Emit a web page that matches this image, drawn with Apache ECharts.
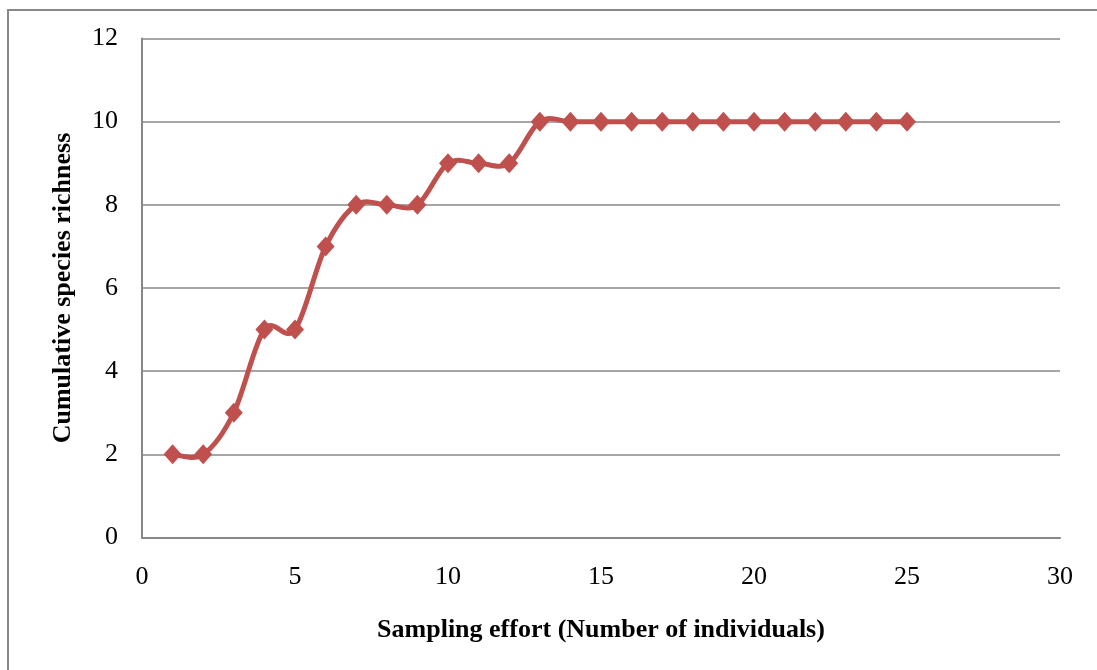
<!DOCTYPE html>
<html><head><meta charset="utf-8">
<script src="https://cdn.jsdelivr.net/npm/echarts@6/dist/echarts.min.js"></script>
<style>html,body{margin:0;padding:0;background:#fff}#c{width:1097px;height:670px}</style>
</head><body><div id="c"></div>
<script>
const xValues = [1,2,3,4,5,6,7,8,9,10,11,12,13,14,15,16,17,18,19,20,21,22,23,24,25];
const richness = [2,2,3,5,5,7,8,8,8,9,9,9,10,10,10,10,10,10,10,10,10,10,10,10,10];
const xTitle = 'Sampling effort (Number of individuals)';
const yTitle = 'Cumulative species richness';

const chart = echarts.init(document.getElementById('c'));
const font = '"Liberation Serif","Times New Roman",serif';
const lineColor = '#C0504D';

// Excel-like (Catmull-Rom) smoothed line through the data points, using the chart's scales
function renderSmooth(params, api) {
  const pts = xValues.map((x, i) => api.coord([x, richness[i]]));
  const n = pts.length;
  const children = [];
  for (let i = 0; i < n - 1; i++) {
    const p0 = pts[Math.max(i - 1, 0)], p1 = pts[i], p2 = pts[i + 1], p3 = pts[Math.min(i + 2, n - 1)];
    children.push({
      type: 'bezierCurve',
      shape: {
        x1: p1[0], y1: p1[1], x2: p2[0], y2: p2[1],
        cpx1: p1[0] + (p2[0] - p0[0]) / 6, cpy1: p1[1] + (p2[1] - p0[1]) / 6,
        cpx2: p2[0] - (p3[0] - p1[0]) / 6, cpy2: p2[1] - (p3[1] - p1[1]) / 6
      },
      style: { stroke: lineColor, lineWidth: 5, fill: null, lineCap: 'round' }
    });
  }
  return { type: 'group', children };
}

chart.setOption({
  animation:false,
  backgroundColor:'#fff',
  graphic:[{type:'rect',shape:{x:8,y:10,width:1300,height:900},style:{fill:'none',stroke:'#888',lineWidth:2},silent:true}],
  grid:{left:142,top:38.5,right:37,bottom:132.5,containLabel:false},
  xAxis:{type:'value',min:0,max:30,interval:5,
    axisLine:{show:true,lineStyle:{color:'#888',width:2}},
    axisTick:{show:false},splitLine:{show:false},
    axisLabel:{fontFamily:font,fontSize:26,color:'#000',margin:27},
    name:xTitle,nameLocation:'middle',nameGap:80,
    nameTextStyle:{fontFamily:font,fontSize:26,fontWeight:'bold',color:'#000'}},
  yAxis:{type:'value',min:0,max:12,interval:2,
    axisLine:{show:true,lineStyle:{color:'#888',width:2}},
    axisTick:{show:false},
    splitLine:{show:true,lineStyle:{color:'#888',width:1.5}},
    axisLabel:{fontFamily:font,fontSize:26,color:'#000',margin:24},
    name:yTitle,nameLocation:'middle',nameGap:66,nameRotate:90,
    nameTextStyle:{fontFamily:font,fontSize:26,fontWeight:'bold',color:'#000'}},
  series:[
    {type:'custom',renderItem:renderSmooth,data:[[0,0]],silent:true,z:2},
    {type:'line',data:xValues.map((x,i)=>[x,richness[i]]),
      symbol:'diamond',symbolSize:[18,20],showAllSymbol:true,
      lineStyle:{opacity:0},
      itemStyle:{color:lineColor},z:3}
  ]
});
</script></body></html>
